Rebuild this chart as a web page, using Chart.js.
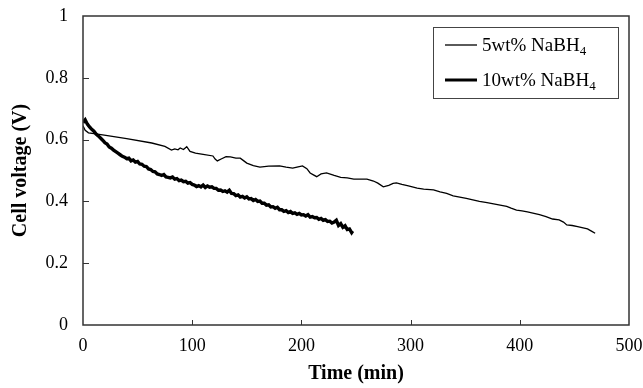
<!DOCTYPE html>
<html>
<head>
<meta charset="utf-8">
<script src="https://cdn.jsdelivr.net/npm/chart.js@4.4.1/dist/chart.umd.min.js"></script>
<style>
  html, body { margin: 0; padding: 0; background: #fff; }
  #wrap { width: 643px; height: 388px; }
</style>
</head>
<body>
<div id="wrap"><canvas id="cellChart" width="643" height="388"></canvas></div>
<script>
// series labels (subscript drawn separately)
const seriesNames = ["5wt% NaBH", "10wt% NaBH"];
const subscript = "4";

// 5wt% NaBH4 : time (min) / voltage (V)
const time5 = [0, 2, 5, 10, 18, 40, 63, 75, 81, 84, 87, 89, 92, 95, 98, 103, 110, 119, 121, 123,
  127, 131, 135, 140, 144, 147, 150, 156, 162, 170, 180, 186, 192, 197, 201, 205, 208, 211, 214,
  218, 223, 230, 236, 242, 248, 254, 260, 266, 270, 275, 280, 284, 287, 292, 298, 306, 312, 318,
  321, 327, 333, 339, 345, 351, 357, 363, 370, 376, 382, 388, 392, 397, 402, 407, 412, 418, 424,
  430, 436, 440, 443, 448, 453, 458, 462, 466, 469];
const volt5 = [0.645, 0.630, 0.622, 0.619, 0.615, 0.603, 0.589, 0.578, 0.566, 0.570, 0.567, 0.573,
  0.568, 0.577, 0.562, 0.556, 0.552, 0.547, 0.537, 0.531, 0.538, 0.545, 0.544, 0.540, 0.540, 0.532,
  0.524, 0.516, 0.511, 0.514, 0.515, 0.511, 0.508, 0.512, 0.515, 0.506, 0.492, 0.486, 0.480, 0.489,
  0.492, 0.484, 0.478, 0.476, 0.472, 0.472, 0.472, 0.466, 0.459, 0.447, 0.452, 0.458, 0.460, 0.455,
  0.450, 0.443, 0.440, 0.438, 0.437, 0.431, 0.426, 0.418, 0.414, 0.410, 0.405, 0.400, 0.396, 0.392,
  0.388, 0.384, 0.378, 0.372, 0.369, 0.366, 0.362, 0.357, 0.351, 0.343, 0.340, 0.333, 0.324, 0.322,
  0.318, 0.314, 0.311, 0.303, 0.297];

// 10wt% NaBH4 : time (min) / voltage (V), noisy trace
const time10 = [0, 2, 4, 6, 8, 10, 12, 14, 16, 18, 20, 22, 24, 26, 28, 30, 32, 34, 36, 38, 40, 42,
  44, 46, 48, 50, 52, 54, 56, 58, 60, 62, 64, 66, 68, 70, 72, 74, 76, 78, 80, 82, 84, 86, 88, 90,
  92, 94, 96, 98, 100, 102, 104, 106, 108, 110, 112, 114, 116, 118, 120, 122, 124, 126, 128, 130,
  132, 134, 136, 138, 140, 142, 144, 146, 148, 150, 152, 154, 156, 158, 160, 162, 164, 166, 168,
  170, 172, 174, 176, 178, 180, 182, 184, 186, 188, 190, 192, 194, 196, 198, 200, 202, 204, 206,
  208, 210, 212, 214, 216, 218, 220, 222, 224, 226, 228, 230, 232, 234, 236, 238, 240, 242, 244,
  246, 247];
const volt10 = [0.655, 0.664, 0.650, 0.641, 0.633, 0.627, 0.618, 0.612, 0.605, 0.598, 0.590, 0.586,
  0.576, 0.572, 0.566, 0.561, 0.556, 0.551, 0.546, 0.543, 0.538, 0.540, 0.531, 0.534, 0.527, 0.529,
  0.521, 0.520, 0.514, 0.513, 0.505, 0.503, 0.497, 0.496, 0.489, 0.487, 0.484, 0.487, 0.479, 0.478,
  0.476, 0.479, 0.472, 0.474, 0.467, 0.469, 0.464, 0.465, 0.459, 0.461, 0.455, 0.453, 0.448, 0.451,
  0.447, 0.453, 0.445, 0.450, 0.446, 0.447, 0.442, 0.442, 0.436, 0.437, 0.432, 0.434, 0.430, 0.436,
  0.426, 0.425, 0.419, 0.421, 0.414, 0.416, 0.411, 0.415, 0.408, 0.409, 0.403, 0.406, 0.400, 0.401,
  0.394, 0.394, 0.388, 0.389, 0.382, 0.383, 0.378, 0.381, 0.373, 0.373, 0.368, 0.370, 0.364, 0.367,
  0.361, 0.363, 0.358, 0.361, 0.356, 0.357, 0.353, 0.357, 0.349, 0.351, 0.347, 0.348, 0.342, 0.345,
  0.339, 0.341, 0.335, 0.336, 0.330, 0.333, 0.339, 0.322, 0.328, 0.316, 0.321, 0.309, 0.311, 0.299,
  0.304];

const xTicks = [0, 100, 200, 300, 400, 500];
const yTicks = [0, 0.2, 0.4, 0.6, 0.8, 1];

const serif = "'Liberation Serif', 'Times New Roman', serif";
const axisColor = "#333";

function toPoints(xs, ys) {
  return xs.map((x, i) => ({ x: x, y: ys[i] }));
}

// frame, inside ticks and the boxed legend
const framePlugin = {
  id: "frame",
  afterDatasetsDraw(chart) {
    const c = chart.ctx;
    const a = chart.chartArea;
    const xs = chart.scales.x;
    const ys = chart.scales.y;
    c.save();
    c.strokeStyle = axisColor;
    c.lineWidth = 1.5;
    c.strokeRect(a.left, a.top, a.right - a.left, a.bottom - a.top);

    c.lineWidth = 1;
    c.beginPath();
    xTicks.slice(1, -1).forEach(v => {
      const px = Math.round(xs.getPixelForValue(v)) + 0.5;
      c.moveTo(px, a.bottom);
      c.lineTo(px, a.bottom - 5);
    });
    yTicks.slice(1, -1).forEach(v => {
      const py = Math.round(ys.getPixelForValue(v)) + 0.5;
      c.moveTo(a.left, py);
      c.lineTo(a.left + 6, py);
    });
    c.stroke();

    // legend
    const lx = a.right - 196, ly = a.top + 11;
    c.lineWidth = 1;
    c.strokeStyle = "#444";
    c.strokeRect(lx + 0.5, ly + 0.5, 185, 71);
    chart.data.datasets.forEach((ds, i) => {
      const rowY = ly + 18 + i * 35;
      c.strokeStyle = "#000";
      c.lineWidth = i === 0 ? 1.3 : 3;
      c.beginPath();
      c.moveTo(lx + 12, rowY);
      c.lineTo(lx + 44, rowY);
      c.stroke();
      c.fillStyle = "#000";
      c.textBaseline = "alphabetic";
      c.font = "19px " + serif;
      const tx = lx + 49;
      c.fillText(seriesNames[i], tx, rowY + 6);
      const w = c.measureText(seriesNames[i]).width;
      c.font = "13px " + serif;
      c.fillText(subscript, tx + w, rowY + 10);
    });
    c.restore();
  }
};

new Chart(document.getElementById("cellChart"), {
  type: "scatter",
  data: {
    datasets: [
      {
        label: seriesNames[0] + subscript,
        data: toPoints(time5, volt5),
        showLine: true,
        borderColor: "#000",
        borderWidth: 1.3,
        pointRadius: 0,
        tension: 0
      },
      {
        label: seriesNames[1] + subscript,
        data: toPoints(time10, volt10),
        showLine: true,
        borderColor: "#000",
        borderWidth: 3.4,
        pointRadius: 0,
        tension: 0
      }
    ]
  },
  options: {
    responsive: false,
    animation: false,
    layout: { padding: { top: 16, right: 14, left: 0, bottom: 0 } },
    plugins: {
      legend: { display: false },
      tooltip: { enabled: false }
    },
    scales: {
      x: {
        type: "linear",
        min: 0,
        max: 500,
        afterBuildTicks: s => { s.ticks = xTicks.map(v => ({ value: v })); },
        afterFit: s => { s.height = 63; s.paddingLeft = 0; s.paddingRight = 0; },
        grid: { display: false, drawTicks: false },
        border: { display: false },
        ticks: { color: "#000", padding: 10, font: { family: serif, size: 18 } },
        title: {
          display: true,
          text: "Time (min)",
          color: "#000",
          padding: { top: 0, bottom: 2 },
          font: { family: serif, size: 20, weight: "bold" }
        }
      },
      y: {
        min: 0,
        max: 1,
        afterBuildTicks: s => { s.ticks = yTicks.map(v => ({ value: v })); },
        afterFit: s => { s.width = 83; s.paddingTop = 0; s.paddingBottom = 0; },
        grid: { display: false, drawTicks: false },
        border: { display: false },
        ticks: {
          color: "#000",
          padding: 15,
          font: { family: serif, size: 18 },
          callback: v => String(Number(v.toFixed(1)))
        },
        title: {
          display: true,
          text: "Cell voltage (V)",
          color: "#000",
          padding: { top: 9, bottom: 0 },
          font: { family: serif, size: 20, weight: "bold" }
        }
      }
    }
  },
  plugins: [framePlugin]
});
</script>
</body>
</html>
